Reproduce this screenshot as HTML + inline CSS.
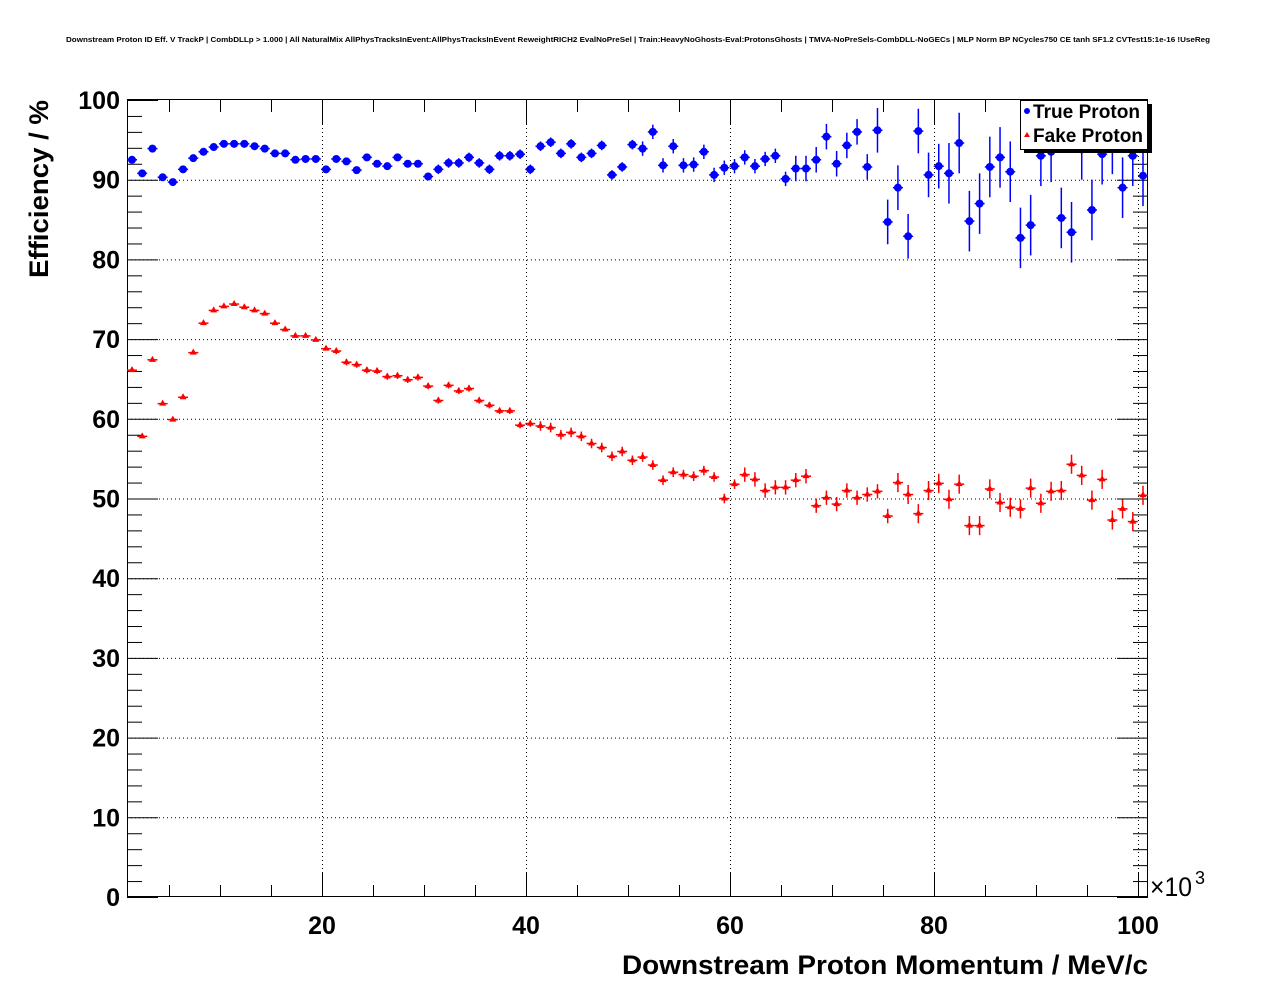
<!DOCTYPE html>
<html><head><meta charset="utf-8"><style>
html,body{margin:0;padding:0;background:#fff;}
svg{display:block;font-family:"Liberation Sans",sans-serif;}
</style></head><body>
<svg id="s" width="1276" height="996" xmlns="http://www.w3.org/2000/svg">
<rect width="1276" height="996" fill="#fff"/>
<text x="638" y="42" font-size="7.5" font-weight="bold" text-anchor="middle" textLength="1144" lengthAdjust="spacingAndGlyphs">Downstream Proton ID Eff. V TrackP | CombDLLp &gt; 1.000 | All NaturalMix AllPhysTracksInEvent:AllPhysTracksInEvent ReweightRICH2 EvalNoPreSel | Train:HeavyNoGhosts-Eval:ProtonsGhosts | TMVA-NoPreSels-CombDLL-NoGECs | MLP Norm BP NCycles750 CE tanh SF1.2 CVTest15:1e-16 !UseReg</text>
<g id="grid" stroke="#000" stroke-width="1" stroke-dasharray="1,3"></g>
<g id="ticks" stroke="#000" stroke-width="1"></g>
<rect x="127.5" y="99.5" width="1020" height="797" fill="none" stroke="#000" stroke-width="1"/>
<g id="data"></g>
<g id="labels" font-size="25" font-weight="bold"></g>
<text x="1150" y="896" font-size="27" textLength="42" lengthAdjust="spacingAndGlyphs">×10</text>
<text x="1195" y="884" font-size="18">3</text>
<text x="622" y="974" font-size="27" font-weight="bold" textLength="526" lengthAdjust="spacingAndGlyphs">Downstream Proton Momentum / MeV/c</text>
<text transform="translate(48,278) rotate(-90)" font-size="27" font-weight="bold" textLength="178" lengthAdjust="spacingAndGlyphs">Efficiency / %</text>
<rect x="1024" y="104" width="128" height="49" fill="#000"/>
<rect x="1020.5" y="100.5" width="127" height="49" fill="#fff" stroke="#000" stroke-width="1"/>
<circle cx="1027" cy="111" r="3" fill="#00f"/>
<text x="1033" y="118" font-size="19" font-weight="bold" textLength="107" lengthAdjust="spacingAndGlyphs">True Proton</text>
<polygon points="1027,132 1024,137 1030,137" fill="#f00"/>
<text x="1033" y="142" font-size="19" font-weight="bold" textLength="110" lengthAdjust="spacingAndGlyphs">Fake Proton</text>
</svg>
<script>
var NS="http://www.w3.org/2000/svg";
function el(p,t,a){var e=document.createElementNS(NS,t);for(var k in a)e.setAttribute(k,a[k]);p.appendChild(e);return e;}
var L=127,R=1148,T=100,B=897;
function Y(v){return B-v*7.97;}
function X(k){return 118+k*10.2;}
var g=document.getElementById('grid'),tk=document.getElementById('ticks'),lb=document.getElementById('labels');
for(var v=10;v<100;v+=10)el(g,'line',{x1:L,x2:R,y1:Y(v)+.5,y2:Y(v)+.5});
[20,40,60,80,100].forEach(function(k){el(g,'line',{x1:X(k)+.5,x2:X(k)+.5,y1:T,y2:B});});
for(var v=0;v<=100;v+=2){var m=v%10==0,len=m?31:15,y=Y(v)+.5;
 el(tk,'line',{x1:L,x2:L+len,y1:y,y2:y});el(tk,'line',{x1:R-len,x2:R,y1:y,y2:y});
 if(m){var t=el(lb,'text',{x:120,y:Y(v)+9,'text-anchor':'end'});t.textContent=v;}}
for(var k=5;k<=100;k+=5){var m=k%20==0,len=m?24:12,x=X(k)+.5;
 el(tk,'line',{x1:x,x2:x,y1:B-len,y2:B});el(tk,'line',{x1:x,x2:x,y1:T,y2:T+len});
 if(m){var t=el(lb,'text',{x:X(k),y:934,'text-anchor':'middle'});t.textContent=k;}}
var blue=[92.5,90.8,93.9,90.3,89.7,91.3,92.7,93.5,94.1,94.5,94.5,94.5,94.2,93.9,93.3,93.3,92.5,92.6,92.6,91.3,92.6,92.3,91.2,92.8,92.0,91.7,92.8,92.0,92.0,90.4,91.3,92.1,92.1,92.8,92.1,91.3,93.0,93.0,93.2,91.3,94.2,94.7,93.3,94.5,92.8,93.3,94.3,90.6,91.6,94.4,93.9,96.0,91.8,94.2,91.8,91.9,93.5,90.6,91.5,91.7,92.8,91.7,92.6,93.0,90.1,91.4,91.4,92.5,95.4,92.0,94.3,96.0,91.6,96.2,84.7,89.0,82.9,96.1,90.6,91.7,90.8,94.6,84.8,87.0,91.6,92.8,91.0,82.7,84.3,93.0,93.5,85.2,83.4,93.8,86.2,93.2,94.5,89.0,93.0,90.5];
var red=[66.1,57.8,67.4,61.9,59.9,62.7,68.3,72.0,73.6,74.1,74.4,74.0,73.6,73.2,72.0,71.2,70.4,70.4,69.9,68.8,68.5,67.1,66.8,66.1,66.0,65.3,65.4,64.9,65.2,64.1,62.3,64.2,63.5,63.8,62.3,61.7,61.0,61.0,59.2,59.4,59.1,58.9,58.0,58.3,57.8,56.9,56.4,55.3,55.9,54.8,55.2,54.2,52.3,53.3,53.0,52.8,53.5,52.7,50.0,51.8,53.0,52.4,51.0,51.4,51.4,52.3,52.8,49.1,50.1,49.3,51.0,50.1,50.5,50.9,47.8,52.0,50.5,48.1,51.0,51.9,49.9,51.8,46.6,46.6,51.2,49.5,48.9,48.7,51.3,49.4,50.9,51.0,54.3,52.9,49.8,52.4,47.3,48.7,47.1,50.4];
var d=document.getElementById('data');
function px(i,n){return 132+i*(1143-132)/(n-1);}
function bErr(i){return i<30?0.3:i<50?0.6:i<65?0.9:i<73?1.6:i<80?2.8:3.8;}
function rErr(i){return i<20?0.2:i<40?0.4:i<60?0.6:i<75?0.9:1.2;}
blue.forEach(function(v,i){var x=px(i,blue.length),y=Y(v),e=bErr(i)*7.97;
 el(d,'line',{x1:x-5,x2:x+5,y1:y,y2:y,stroke:'#00f','stroke-width':1.5});
 el(d,'line',{x1:x,x2:x,y1:y-e,y2:y+e,stroke:'#00f','stroke-width':1.5});
 el(d,'circle',{cx:x,cy:y,r:4,fill:'#00f'});});
red.forEach(function(v,i){var x=px(i,red.length),y=Y(v),e=rErr(i)*7.97;
 el(d,'line',{x1:x-5,x2:x+5,y1:y,y2:y,stroke:'#f00','stroke-width':1.5});
 el(d,'line',{x1:x,x2:x,y1:y-e,y2:y+e,stroke:'#f00','stroke-width':1.5});
 el(d,'polygon',{points:(x)+','+(y-4)+' '+(x-3.5)+','+(y+2)+' '+(x+3.5)+','+(y+2),fill:'#f00'});});
</script>
</body></html>
